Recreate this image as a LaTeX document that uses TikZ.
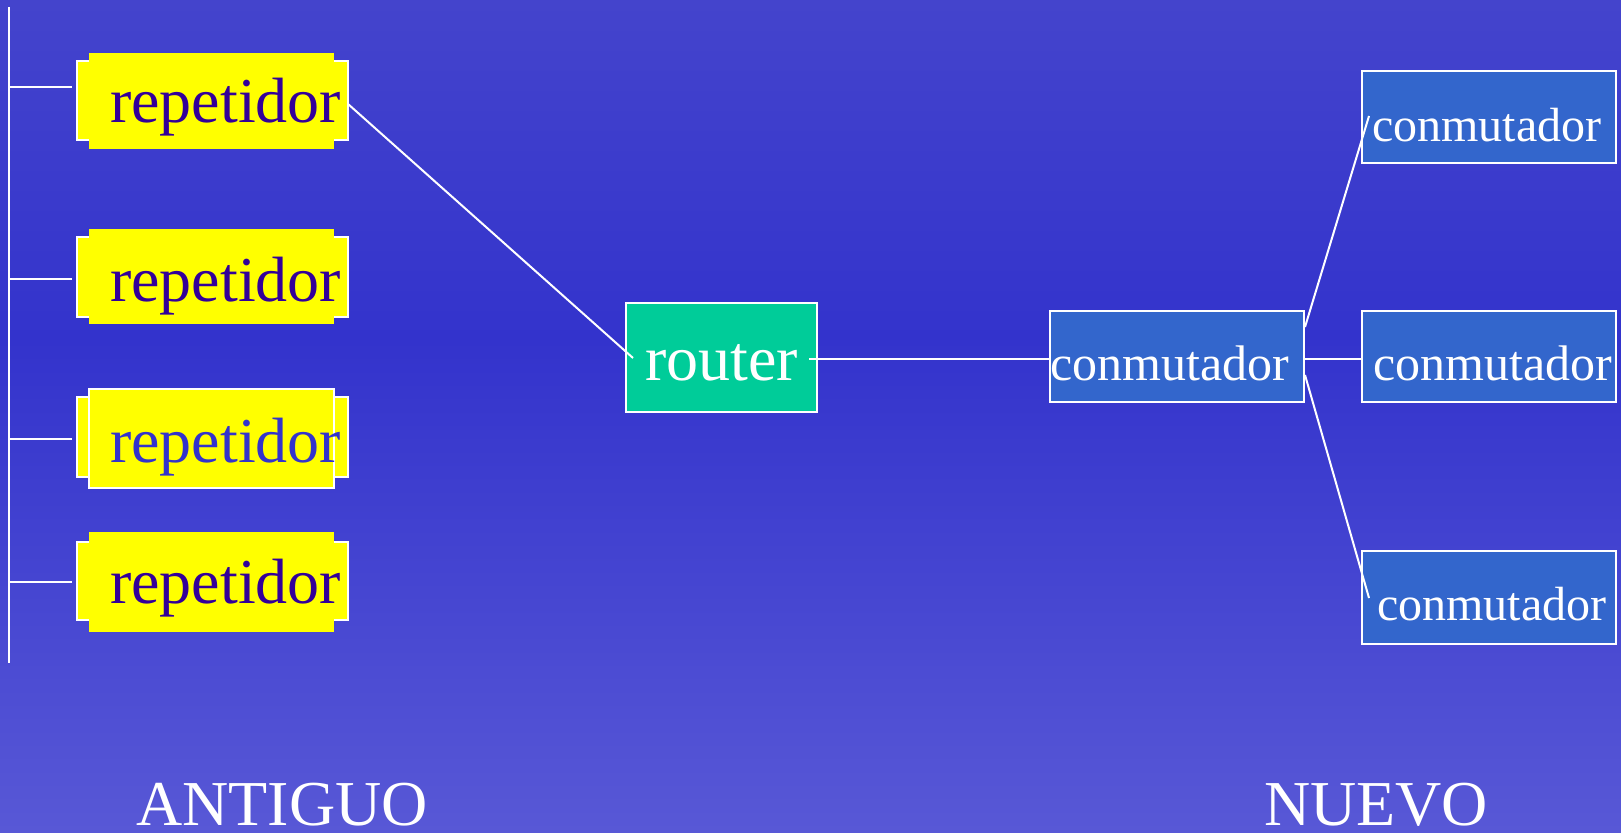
\documentclass[tikz,border=0pt]{standalone}
\usepackage{fontspec}
\setmainfont{Liberation Serif}
\definecolor{bgtop}{RGB}{68,68,204}
\definecolor{bgmid}{RGB}{51,51,204}
\definecolor{bgbot}{RGB}{88,88,214}
\definecolor{repyellow}{RGB}{255,255,0}
\definecolor{reptext}{RGB}{51,0,153}
\definecolor{reptextb}{RGB}{51,51,204}
\definecolor{routerfill}{RGB}{0,204,153}
\definecolor{conmfill}{RGB}{51,102,204}
\begin{document}
\begin{tikzpicture}[x=1pt,y=-1pt,
  wline/.style={draw=white,line width=2pt},
  repwide/.style={rectangle,fill=repyellow,draw=white,line width=2pt,inner sep=0pt,minimum width=271pt},
  repnarrow/.style={rectangle,fill=repyellow,inner sep=0pt,minimum width=245pt},
  reptxt/.style={anchor=base west,inner sep=0pt,text=reptext,font=\fontsize{64}{64}\selectfont},
  routerbox/.style={rectangle,fill=routerfill,draw=white,line width=2pt,inner sep=0pt,minimum width=191pt,minimum height=109pt},
  conmbox/.style={rectangle,fill=conmfill,draw=white,line width=2pt,inner sep=0pt,minimum width=254pt},
  wtxt/.style={anchor=base west,inner sep=0pt,text=white},
]
\useasboundingbox (0,0) rectangle (1621,832);
% background
\fill[top color=bgtop,bottom color=bgmid] (0,0) rectangle (1621,340);
\fill[top color=bgmid,bottom color=bgbot] (0,339) rectangle (1621,832);

% bus
\coordinate (bustop) at (9,7);
\coordinate (busbot) at (9,663);
\draw[wline] (bustop) -- (busbot);

% repeaters
\node[repwide,minimum height=78pt] (rep1) at (212.5,100.5) {};
\node[repnarrow,minimum height=96pt] (rep1n) at (211.5,101) {};
\node[reptxt] (rep1t) at (110,123) {repetidor};

\node[repwide,minimum height=80pt] (rep2) at (212.5,277) {};
\node[repnarrow,minimum height=95pt] (rep2n) at (211.5,276.5) {};
\node[reptxt] (rep2t) at (110,301) {repetidor};

\node[repwide,minimum height=80pt] (rep3) at (212.5,437) {};
\node[repnarrow,draw=white,line width=2pt,minimum height=99pt] (rep3n) at (211.5,438.5) {};
\node[reptxt,text=reptextb] (rep3t) at (110,462) {repetidor};

\node[repwide,minimum height=78pt] (rep4) at (212.5,581) {};
\node[repnarrow,minimum height=100pt] (rep4n) at (211.5,582) {};
\node[reptxt] (rep4t) at (110,603) {repetidor};

% bus stubs
\coordinate (b1) at (9,87);  \coordinate (s1) at (72,87);
\coordinate (b2) at (9,279); \coordinate (s2) at (72,279);
\coordinate (b3) at (9,439); \coordinate (s3) at (72,439);
\coordinate (b4) at (9,582); \coordinate (s4) at (72,582);
\draw[wline] (b1) -- (s1);
\draw[wline] (b2) -- (s2);
\draw[wline] (b3) -- (s3);
\draw[wline] (b4) -- (s4);

% router
\node[routerbox] (router) at (721.5,357.5) {};
\node[wtxt,font=\fontsize{64}{64}\selectfont] (routert) at (645,380) {router};

% conmutadores
\node[conmbox,minimum height=91pt] (cc) at (1177,356.5) {};
\node[conmbox,minimum height=92pt] (ct) at (1489,117) {};
\node[conmbox,minimum height=91pt] (cm) at (1489,356.5) {};
\node[conmbox,minimum height=93pt] (cb) at (1489,597.5) {};
\node[wtxt,font=\fontsize{50}{50}\selectfont] (cct) at (1050,380) {conmutador};
\node[wtxt,font=\fontsize{48}{48}\selectfont] (ctt) at (1372,141) {conmutador};
\node[wtxt,font=\fontsize{50}{50}\selectfont] (cmt) at (1373,380) {conmutador};
\node[wtxt,font=\fontsize{48}{48}\selectfont] (cbt) at (1377,620) {conmutador};

% connectors
\coordinate (r1out) at (348,104);
\coordinate (rtin) at (633,358);
\coordinate (rtout) at (809,359);
\coordinate (ccin) at (1050,359);
\coordinate (ccout) at (1304,359);
\coordinate (cmin) at (1362,359);
\coordinate (ccup) at (1305,327);
\coordinate (ctin) at (1369,116);
\coordinate (ccdn) at (1305,375);
\coordinate (cbin) at (1369,598);
\draw[wline] (r1out) -- (rtin);
\draw[wline] (rtout) -- (ccin);
\draw[wline] (ccout) -- (cmin);
\draw[wline] (ccup) -- (ctin);
\draw[wline] (ccdn) -- (cbin);

% labels
\node[wtxt,font=\fontsize{64}{64}\selectfont] (antiguo) at (136,825) {ANTIGUO};
\node[wtxt,font=\fontsize{64}{64}\selectfont] (nuevo) at (1264,825) {NUEVO};
\end{tikzpicture}
\end{document}
